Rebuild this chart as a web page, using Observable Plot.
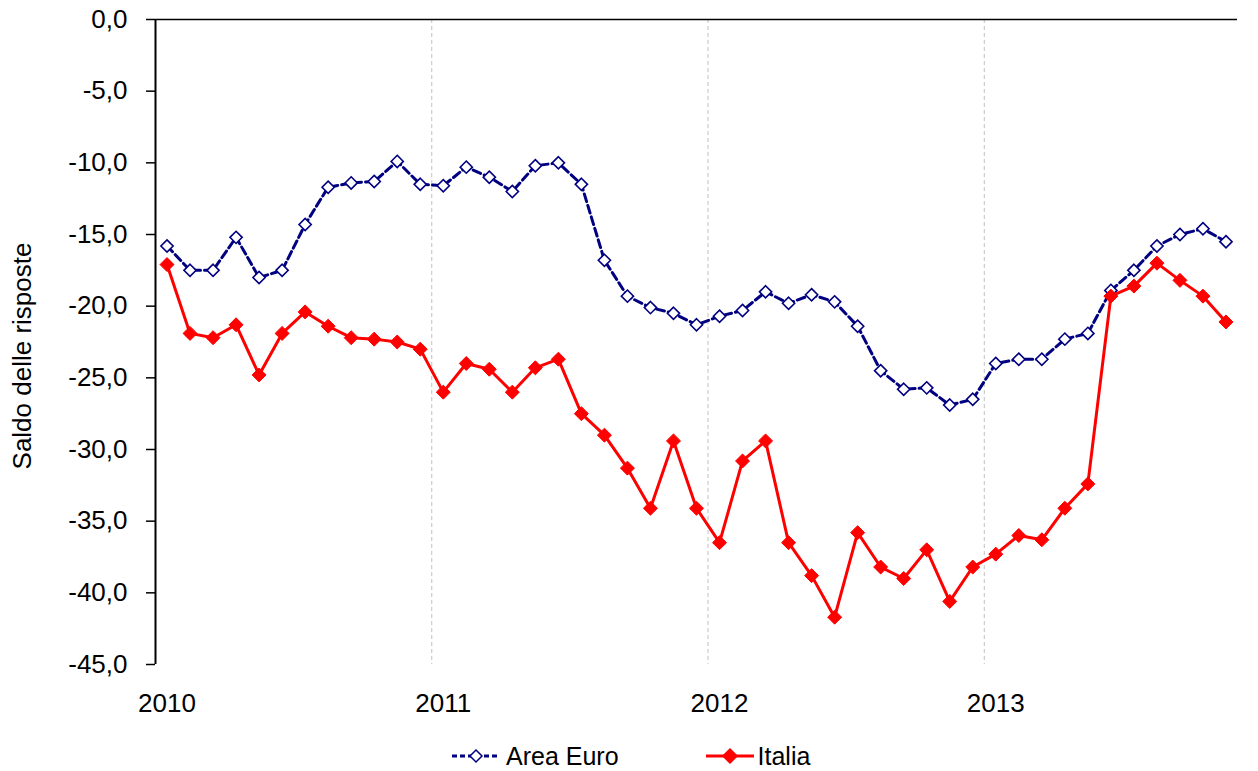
<!DOCTYPE html>
<html>
<head>
<meta charset="utf-8">
<script src="https://cdn.jsdelivr.net/npm/d3@7"></script>
<script src="https://cdn.jsdelivr.net/npm/@observablehq/plot@0.6"></script>
<style>
  html, body { margin: 0; padding: 0; background: #fff; }
  #wrap { position: relative; width: 1258px; height: 771px; overflow: hidden; }
  #legend { position: absolute; left: 452px; top: 740px; height: 32px; display: flex; align-items: center;
            font-family: "Liberation Sans", Arial, sans-serif; font-size: 25px; color: #000; }
  #legend .item { display: flex; align-items: center; }
  #legend svg { display: block; }
</style>
</head>
<body>
<div id="wrap">
  <div id="chart"></div>
  <div id="legend"></div>
</div>
<script>
// Monthly data, Jan 2010 – Nov 2013
const years = ["2010", "2011", "2012", "2013"];
const yTicks = [0, -5, -10, -15, -20, -25, -30, -35, -40, -45];
const seriesNames = ["Area Euro", "Italia"];
const euro = [
  -15.8, -17.5, -17.5, -15.2, -18.0, -17.5, -14.3, -11.7, -11.4, -11.3, -9.9, -11.5,
  -11.6, -10.3, -11.0, -12.0, -10.2, -10.0, -11.5, -16.8, -19.3, -20.1, -20.5, -21.3,
  -20.7, -20.3, -19.0, -19.8, -19.2, -19.7, -21.4, -24.5, -25.8, -25.7, -26.9, -26.5,
  -24.0, -23.7, -23.7, -22.3, -21.9, -18.9, -17.5, -15.8, -15.0, -14.6, -15.5
];
const italia = [
  -17.1, -21.9, -22.2, -21.3, -24.8, -21.9, -20.4, -21.4, -22.2, -22.3, -22.5, -23.0,
  -26.0, -24.0, -24.4, -26.0, -24.3, -23.7, -27.5, -29.0, -31.3, -34.1, -29.4, -34.1,
  -36.5, -30.8, -29.4, -36.5, -38.8, -41.7, -35.8, -38.2, -39.0, -37.0, -40.6, -38.2,
  -37.3, -36.0, -36.3, -34.1, -32.4, -19.3, -18.6, -17.0, -18.2, -19.3, -21.1
];

const euroData = euro.map((v, i) => ({i, v}));
const italiaData = italia.map((v, i) => ({i, v}));
const yearStart = years.map((_, k) => k * 12);
const gridPos = years.slice(1).map((_, k) => (k + 1) * 12 - 0.5);

const navy = "#000080";
const red = "#ff0000";

const chart = Plot.plot({
  width: 1258,
  height: 725,
  marginTop: 19,
  marginBottom: 61,
  marginLeft: 155,
  marginRight: 21,
  x: {domain: [-0.5, euro.length - 0.5]},
  y: {domain: [-45, 0]},
  style: {fontFamily: "'Liberation Sans', Arial, sans-serif", fontSize: "26px", color: "#000", background: "white"},
  marks: [
    Plot.ruleX(gridPos, {stroke: "#c0c0c0", strokeDasharray: "4,3", strokeWidth: 1}),
    Plot.axisY({ticks: yTicks, tickFormat: d => d.toFixed(1).replace(".", ","), tickSize: 9, tickPadding: 19, label: null, strokeWidth: 1.5, fontSize: 26}),
    Plot.axisX({ticks: yearStart, tickFormat: i => years[Math.round(i / 12)], tickSize: 0, tickPadding: 29, label: null, fontSize: 26}),
    Plot.ruleX([-0.5], {stroke: "#000", strokeWidth: 2}),
    Plot.ruleY([0], {stroke: "#000", strokeWidth: 1.5}),
    Plot.text(["Saldo delle risposte"], {text: d => d, frameAnchor: "left", textAnchor: "middle", dx: -133, dy: 14, rotate: -90, fontSize: 26, fill: "#000"}),
    Plot.line(euroData, {x: "i", y: "v", stroke: navy, strokeWidth: 3, strokeDasharray: "8,4"}),
    Plot.dot(euroData, {x: "i", y: "v", symbol: "diamond2", r: 5.5, stroke: navy, strokeWidth: 1.6, fill: "white"}),
    Plot.line(italiaData, {x: "i", y: "v", stroke: red, strokeWidth: 3}),
    Plot.dot(italiaData, {x: "i", y: "v", symbol: "diamond2", r: 6.3, stroke: red, strokeWidth: 1, fill: red})
  ]
});
document.getElementById("chart").appendChild(chart);

// Legend
const legend = d3.select("#legend");
const items = [
  {name: seriesNames[0], color: navy, dash: "5,3", fill: "white", width: 3, s: 6, gap: 87, pad: 6},
  {name: seriesNames[1], color: red, dash: null, fill: red, width: 3, s: 7, gap: 0, pad: 4}
];
items.forEach(it => {
  const g = legend.append("div").attr("class", "item").style("margin-right", it.gap + "px");
  const svg = g.append("svg").attr("width", 48).attr("height", 24);
  svg.append("line").attr("x1", 0).attr("x2", 48).attr("y1", 12).attr("y2", 12)
    .attr("stroke", it.color).attr("stroke-width", it.width).attr("stroke-dasharray", it.dash);
  svg.append("path").attr("d", `M24,${12 - it.s}L${24 + it.s},12L24,${12 + it.s}L${24 - it.s},12Z`)
    .attr("fill", it.fill).attr("stroke", it.color).attr("stroke-width", 1.5);
  g.append("span").style("margin-left", it.pad + "px").text(it.name);
});
</script>
</body>
</html>
